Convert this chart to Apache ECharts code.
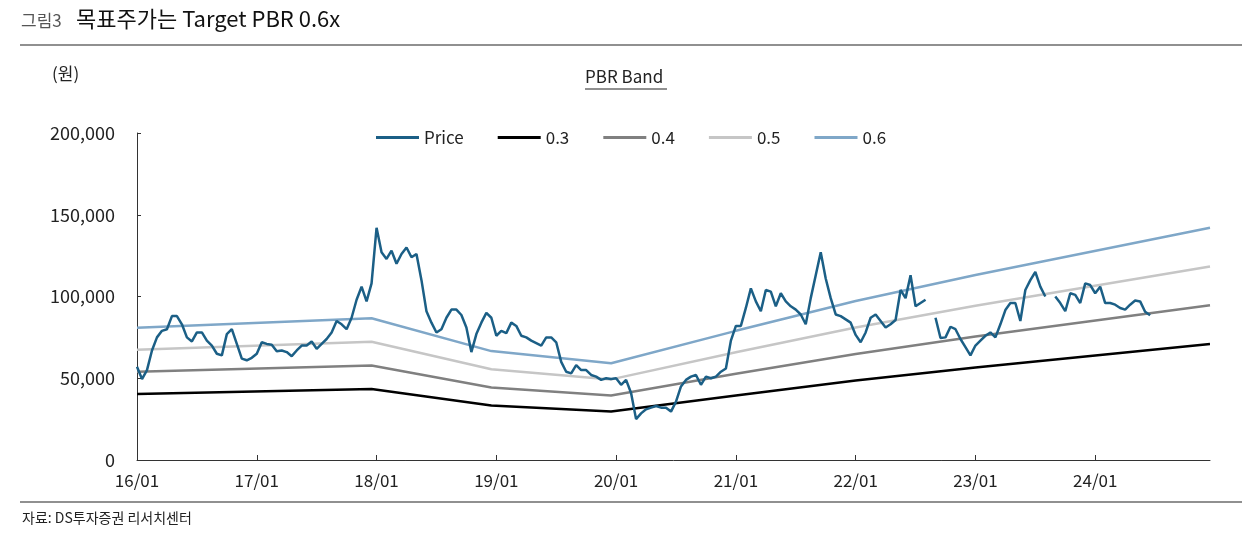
<!DOCTYPE html>
<html>
<head>
<meta charset="utf-8">
<script src="https://cdn.jsdelivr.net/npm/echarts@6/dist/echarts.min.js"></script>
<style>
  html, body { margin: 0; padding: 0; background: #fff; }
  #chart { width: 1242px; height: 544px; }
</style>
</head>
<body>
<div id="chart"></div>
<script>
// half-month steps from 2016-01 to 2024-12
var categories = [];
for (var y = 16; y <= 24; y++) {
    for (var m = 1; m <= 12; m++) {
        var mm = (m < 10 ? '0' : '') + m;
        categories.push(y + '/' + mm + '/01');
        categories.push(y + '/' + mm + '/16');
    }
}

var yTicks = [0, 50000, 100000, 150000, 200000];

// price, half-monthly (won)
var price = [
    57000, 49500, 55000, 67000, 75000, 79000, 80000, 88000, 88000, 83000,
    75000, 72500, 78000, 78000, 73000, 70000, 65000, 64000, 77000, 80000,
    71000, 62000, 61000, 62500, 65000, 72000, 71000, 70500, 66500, 67000,
    66000, 63500, 67000, 70000, 70000, 72500, 68000, 71000, 74000, 78000,
    85000, 83000, 80000, 87000, 98000, 106000, 97000, 108000, 142000, 127000,
    123000, 128000, 120000, 126000, 130000, 124000, 126000, 110000, 91000, 84000,
    78000, 80000, 87000, 92000, 92000, 88700, 81000, 66000, 77000, 84000,
    90000, 87000, 76000, 79000, 77600, 84000, 82000, 76000, 75000, 73000,
    71500, 70000, 75000, 75000, 72000, 60000, 54000, 53000, 58000, 55000,
    55000, 52000, 51000, 49000, 50000, 49500, 50000, 46000, 49000, 41000,
    25000, 28500, 31000, 32000, 33000, 32000, 32000, 29600, 35700, 45000,
    49000, 51000, 52000, 46000, 51000, 50000, 51000, 54000, 56000, 73000,
    82000, 82000, 93000, 105000, 97000, 91000, 104000, 103000, 94000, 102000,
    97000, 94000, 92000, 89000, 83000, 99000, 113000, 127000, 111000, 99000,
    89000, 88000, 86000, 84000, 76500, 72000, 78000, 87000, 89000, 85000,
    81000, 83000, 85600, 104000, 99000, 113000, 94000, 96000, 98000, null,
    87000, 74600, 75000, 81500, 80000, 74000, 69000, 64000, 70000, 73000,
    76000, 78000, 75000, 83000, 91700, 96000, 96000, 85000, 104000, 110000,
    115000, 106000, 100000, null, 100000, 96000, 91000, 102000, 101000, 96000,
    108000, 107000, 102000, 106000, 96000, 96000, 95000, 93000, 92000, 95000,
    97500, 97000, 90700, 88500
];

// PBR band knots
var bandDates = ['16/01/01', '17/12/16', '18/12/16', '19/12/16', '21/01/01', '22/01/01', '23/01/01', '24/12/16'];
var band03 = [40400, 43400, 33300, 29600, 39500, 48600, 56600, 71000];
var band04 = [53900, 57800, 44400, 39400, 52700, 64800, 75500, 94700];
var band05 = [67400, 72300, 55500, 49300, 65900, 81000, 94300, 118400];
var band06 = [80900, 86700, 66600, 59200, 79000, 97200, 113200, 142000];

function knots(vals) {
    var out = [];
    for (var i = 0; i < bandDates.length; i++) {
        out.push([bandDates[i], vals[i]]);
    }
    return out;
}

var font = '"Noto Sans CJK KR", "Noto Sans", sans-serif';

var myChart = echarts.init(document.getElementById('chart'));
var option = {
    animation: false,
    textStyle: { fontFamily: font },
    grid: {
        left: 137,
        right: 32,
        top: 133,
        bottom: 84
    },
    legend: {
        left: 371,
        top: 124,
        itemWidth: 43,
        itemHeight: 3,
        itemGap: 34,
        icon: 'rect',
        textStyle: { fontSize: 17, color: '#222', fontFamily: font },
        data: ['Price', '0.3', '0.4', '0.5', '0.6']
    },
    xAxis: {
        type: 'category',
        data: categories,
        boundaryGap: false,
        axisLine: { lineStyle: { color: '#333', width: 1 } },
        axisTick: {
            inside: true,
            length: 5,
            interval: function (idx) { return idx % 24 === 0 && idx <= 192; },
            lineStyle: { color: '#333' }
        },
        axisLabel: {
            interval: function (idx) { return idx % 24 === 0 && idx <= 192; },
            formatter: function (v) { return v.substring(0, 5); },
            fontSize: 17,
            color: '#222',
            margin: 12
        },
        splitLine: { show: false }
    },
    yAxis: {
        type: 'value',
        min: yTicks[0],
        max: yTicks[yTicks.length - 1],
        interval: 50000,
        axisLine: { show: true, lineStyle: { color: '#333', width: 1 } },
        axisTick: { show: true, inside: true, length: 4, lineStyle: { color: '#333' } },
        axisLabel: {
            fontSize: 18,
            color: '#222',
            margin: 22,
            formatter: function (v) { return v.toLocaleString('en-US'); }
        },
        splitLine: { show: false }
    },
    series: [
        {
            name: 'Price', type: 'line', data: price, showSymbol: false,
            lineStyle: { color: '#1b5f86', width: 2.5 }, itemStyle: { color: '#1b5f86' }, z: 5
        },
        {
            name: '0.3', type: 'line', data: knots(band03), showSymbol: false,
            lineStyle: { color: '#000000', width: 2.5 }, itemStyle: { color: '#000000' }
        },
        {
            name: '0.4', type: 'line', data: knots(band04), showSymbol: false,
            lineStyle: { color: '#808080', width: 2.5 }, itemStyle: { color: '#808080' }
        },
        {
            name: '0.5', type: 'line', data: knots(band05), showSymbol: false,
            lineStyle: { color: '#c6c6c6', width: 2.5 }, itemStyle: { color: '#c6c6c6' }
        },
        {
            name: '0.6', type: 'line', data: knots(band06), showSymbol: false,
            lineStyle: { color: '#7fa7c8', width: 2.5 }, itemStyle: { color: '#7fa7c8' }
        }
    ],
    graphic: [
        { type: 'text', left: 21, top: 12, style: { text: '그림3', fontSize: 17, fill: '#555', fontFamily: font } },
        { type: 'text', left: 76, top: 8, style: { text: '목표주가는 Target PBR 0.6x', fontSize: 22, fill: '#111', fontFamily: font } },
        { type: 'line', shape: { x1: 20, y1: 45, x2: 1242, y2: 45 }, style: { stroke: '#222', lineWidth: 1.2 } },
        { type: 'text', left: 52, top: 65, style: { text: '(원)', fontSize: 17, fill: '#222', fontFamily: font } },
        { type: 'text', left: 585, top: 68, style: { text: 'PBR Band', fontSize: 17, fill: '#222', fontFamily: font } },
        { type: 'line', shape: { x1: 585, y1: 89, x2: 667, y2: 89 }, style: { stroke: '#222', lineWidth: 1 } },
        { type: 'line', shape: { x1: 20, y1: 502, x2: 1242, y2: 502 }, style: { stroke: '#222', lineWidth: 1.2 } },
        { type: 'text', left: 22, top: 511, style: { text: '자료: DS투자증권 리서치센터', fontSize: 14, fill: '#222', fontFamily: font } }
    ]
};
myChart.setOption(option);
</script>
</body>
</html>
